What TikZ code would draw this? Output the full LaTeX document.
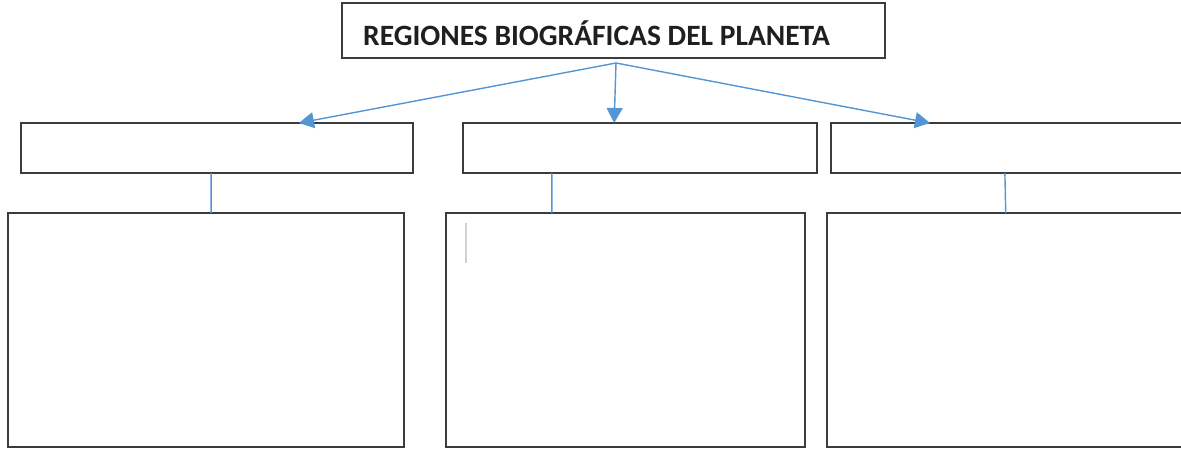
\documentclass[tikz,border=0pt]{standalone}
\usepackage{fontspec}
\setmainfont{Carlito}
\usetikzlibrary{arrows.meta,calc}
\definecolor{linkblue}{RGB}{84,150,212}
\definecolor{boxgray}{RGB}{60,60,60}
\tikzset{
  box/.style={draw=boxgray, line width=1.6pt, fill=white, anchor=north west, inner sep=0pt, outer sep=0pt},
  link/.style={draw=linkblue, line width=1.4pt},
  arrowlink/.style={link, -{Triangle[width=16pt,length=15pt]}},
}
\begin{document}
\begin{tikzpicture}[x=1pt,y=-1pt]
\clip (0,0) rectangle (1181,450);
\fill[white] (0,0) rectangle (1181,450);
% title
\node[box, minimum width=543pt, minimum height=55pt] (t) at (342,3) {};
\node[anchor=west, inner sep=0pt, font=\bfseries\fontsize{29.5}{34}\selectfont, text=black!88] (tt) at (363,33) {REGIONES BIOGRÁFICAS DEL PLANETA};
% first row
\node[box, minimum width=392pt, minimum height=50pt] (a) at (21,123) {};
\node[box, minimum width=354pt, minimum height=50pt] (b) at (463,123) {};
\node[box, minimum width=360pt, minimum height=50pt] (c) at (831,123) {};
% second row
\node[box, minimum width=396pt, minimum height=234pt] (d) at (8,213) {};
\node[box, minimum width=359pt, minimum height=234pt] (e) at (446,213) {};
\node[box, minimum width=364pt, minimum height=234pt] (f) at (827,213) {};
% origin of arrows
\coordinate (o) at (616,63);
\draw[arrowlink] (o) -- ($(a.north west)!0.709!(a.north east)$);
\draw[arrowlink] (o) -- ($(b.north west)!0.427!(b.north east)$);
\draw[arrowlink] (o) -- ($(c.north west)!0.275!(c.north east)$);
% vertical connectors
\draw[link] ($(a.south west)!0.485!(a.south east)$) -- ($(d.north west)!0.513!(d.north east)$);
\draw[link] ($(b.south west)!0.251!(b.south east)$) -- ($(e.north west)!0.295!(e.north east)$);
\draw[link] ($(c.south west)!0.483!(c.south east)$) -- ($(f.north west)!0.491!(f.north east)$);
% cursor mark
\draw[black!18, line width=2.5pt] (466,223) -- (466,263);
\end{tikzpicture}
\end{document}
